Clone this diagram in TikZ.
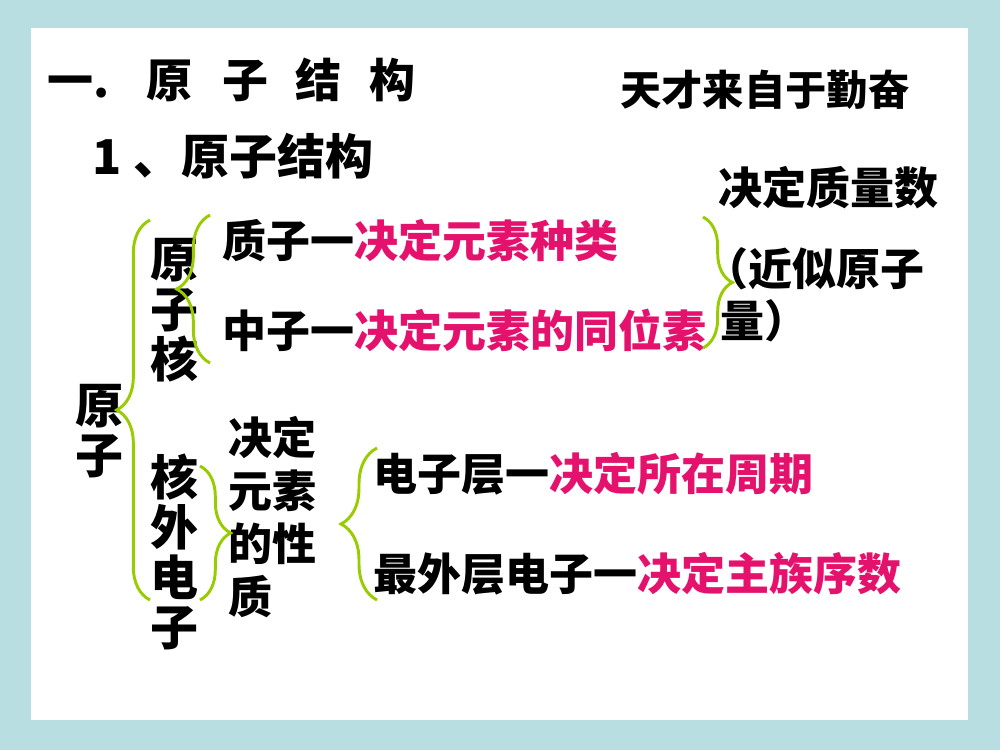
\documentclass[tikz,border=0pt]{standalone}
\usepackage{fontspec}
\setmainfont{Noto Sans CJK SC}
\usetikzlibrary{decorations.pathreplacing}
\definecolor{framecol}{RGB}{185,222,226}
\definecolor{keypink}{RGB}{228,18,108}
\definecolor{bracegreen}{RGB}{153,204,0}
\newcommand{\key}[1]{{\color{keypink}#1}}

\begin{document}
\begin{tikzpicture}[x=0.75pt, y=-0.75pt,
  txt/.style = {anchor=base west, inner sep=0pt, font=\fontsize{33}{39}\selectfont\bfseries},
  col/.style = {anchor=base west, inner sep=0pt, align=left, font=\fontsize{36}{37.5}\selectfont\bfseries},
  curly/.style = {decorate, decoration={brace, amplitude=#1}, draw=bracegreen, line width=2.2pt}]
% frame
\useasboundingbox (0,0) rectangle (1000,750);
\fill[framecol] (0,0) rectangle (1000,750);
\fill[white] (31,28) rectangle (968,720);

% headings
\node[txt, font=\fontsize{34.5}{40}\selectfont\bfseries] (title) at (47,97)
  {一.\hspace{0.8em}原\hspace{0.65em}子\hspace{0.6em}结\hspace{0.6em}构};
\node[txt, font=\fontsize{36}{40}\selectfont\bfseries] (sub) at (92,174)
  {1\hspace{0.25em}、原子结构};
\node[txt, font=\fontsize{31}{36}\selectfont\bfseries] (motto) at (620,105) {天才来自于勤奋};

% tree (multi-line nodes: base = last line)
\node[col] (yuanzi) at (75,473) {原\\子};
\node[col] (hezi) at (150,377) {原\\子\\核};
\node[col] (hewai) at (150,645) {核\\外\\电\\子};
\node[txt] (zhizi) at (222,257) {质子一\key{决定元素种类}};
\node[txt] (zhongzi) at (222,347) {中子一\key{决定元素的同位素}};
\node[txt] (zhiliang) at (718,204) {决定质量数};
\node[txt, align=left, font=\fontsize{33}{39}\selectfont\bfseries] (jinsi) at (720,337)
  {\hspace*{-0.35em}（近似原子\\量）};
\node[txt, align=left, font=\fontsize{33}{39.75}\selectfont\bfseries] (xingzhi) at (228,613) {决定\\元素\\的性\\质};
\node[txt] (dianzi) at (373,490) {电子层一\key{决定所在周期}};
\node[txt] (zuiwai) at (373,590) {最外层电子一\key{决定主族序数}};

% braces
\coordinate (b1s) at (150,600); \coordinate (b1e) at (150,220);
\coordinate (b2s) at (210,363); \coordinate (b2e) at (210,215);
\coordinate (b3s) at (200,466); \coordinate (b3e) at (200,600);
\coordinate (b4s) at (377,600); \coordinate (b4e) at (377,448);
\coordinate (b5s) at (703,217); \coordinate (b5e) at (703,348);
\draw[curly=25] (b1s) -- (b1e);
\draw[curly=25] (b2s) -- (b2e);
\draw[curly=23] (b3s) -- (b3e);
\draw[curly=27] (b4s) -- (b4e);
\draw[curly=22] (b5s) -- (b5e);
\end{tikzpicture}
\end{document}
